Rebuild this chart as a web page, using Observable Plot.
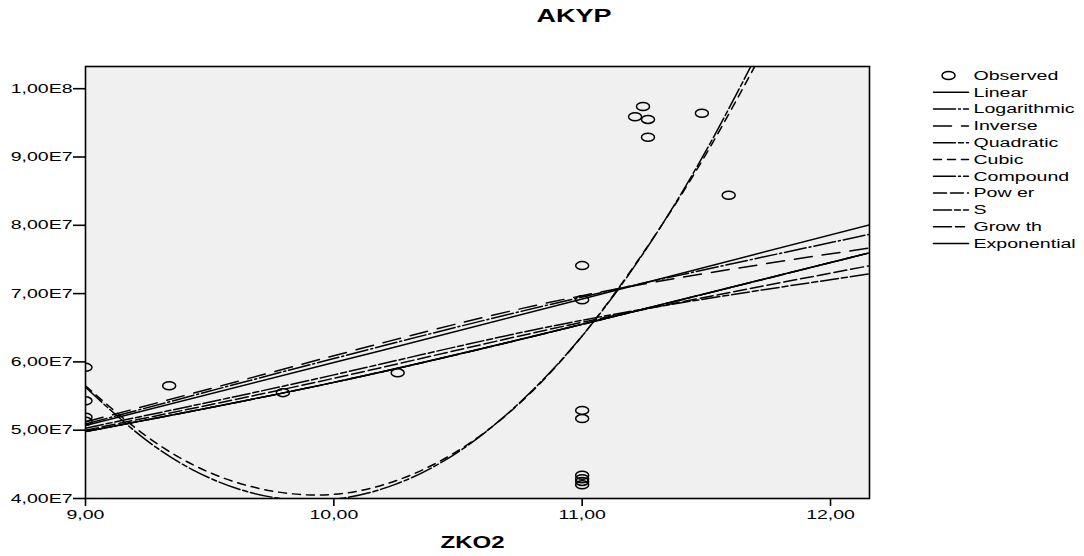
<!DOCTYPE html>
<html>
<head>
<meta charset="utf-8">
<script src="https://cdn.jsdelivr.net/npm/d3@7"></script>
<script src="https://cdn.jsdelivr.net/npm/@observablehq/plot@0.6"></script>
<style>
  body { margin: 0; background: #fff; font-family: "Liberation Sans", Arial, sans-serif; }
  #wrap { position: relative; width: 1084px; height: 556px; overflow: hidden; }
  #title { position: absolute; left: 474px; top: 7px; width: 200px; text-align: center;
           font-size: 18px; font-weight: bold; line-height: 18px; transform: scaleX(1.5); }
  #main { position: absolute; left: 0; top: 0; }
  #legend { position: absolute; left: 930px; top: 66px; }
</style>
</head>
<body>
<div id="wrap">
  <div id="title">AKYP</div>
  <div id="main"></div>
  <div id="legend"></div>
</div>
<script>
// ---------- data ----------
const titleText = "AKYP";
const xLabel = "ZKO2";

const xTicks = [9, 10, 11, 12];
const xTickLabels = ["9,00", "10,00", "11,00", "12,00"];
const yTicks = [4e7, 5e7, 6e7, 7e7, 8e7, 9e7, 1e8];
const yTickLabels = ["4,00E7", "5,00E7", "6,00E7", "7,00E7", "8,00E7", "9,00E7", "1,00E8"];

// observed points
const obsX = [9, 9, 9, 9, 9.337, 9.795, 10.257, 11, 11, 11, 11, 11, 11, 11, 11,
              11.213, 11.245, 11.265, 11.265, 11.482, 11.59];
const obsY = [5.92e7, 5.43e7, 5.19e7, 5.13e7, 5.65e7, 5.55e7, 5.84e7, 7.41e7, 6.91e7, 5.29e7, 5.17e7,
              4.34e7, 4.29e7, 4.25e7, 4.20e7, 9.59e7, 9.74e7, 9.55e7, 9.29e7, 9.64e7, 8.44e7];

// fitted curves (values read at these x positions)
const lineX = [9, 10, 11, 12.16];
const linearY      = [5.07e7, 5.99e7, 6.92e7, 8.01e7];
const logarithmicY = [5.09e7, 6.05e7, 6.95e7, 7.87e7];
const inverseY     = [5.12e7, 6.09e7, 6.97e7, 7.67e7];
const compoundY    = [4.98e7, 5.70e7, 6.55e7, 7.60e7];
const powerY       = [5.00e7, 5.76e7, 6.58e7, 7.41e7];
const sY           = [5.03e7, 5.81e7, 6.61e7, 7.29e7];
const growthY      = [4.98e7, 5.70e7, 6.55e7, 7.60e7];
const exponentialY = [4.98e7, 5.70e7, 6.55e7, 7.60e7];

const polyX = [9, 9.25, 9.5, 9.75, 10, 10.25, 10.5, 10.75, 11, 11.25, 11.5, 11.75];
const quadraticY = [5.63e7, 4.84e7, 4.30e7, 4.02e7, 3.99e7, 4.21e7, 4.68e7, 5.41e7, 6.38e7, 7.61e7, 9.10e7, 10.83e7];
const cubicY     = [5.65e7, 4.90e7, 4.38e7, 4.11e7, 4.06e7, 4.26e7, 4.70e7, 5.40e7, 6.38e7, 7.62e7, 9.05e7, 10.70e7];

const legendNames = ["Observed", "Linear", "Logarithmic", "Inverse", "Quadratic", "Cubic",
                     "Compound", "Pow er", "S", "Grow th", "Exponential"];

// ---------- styles ----------
const models = [
  {name: "Linear",      xs: lineX, ys: linearY,      dash: null},
  {name: "Logarithmic", xs: lineX, ys: logarithmicY, dash: "22,3,2,3"},
  {name: "Inverse",     xs: lineX, ys: inverseY,     dash: "18,10"},
  {name: "Quadratic",   xs: polyX, ys: quadraticY,   dash: "22,3,5,3"},
  {name: "Cubic",       xs: polyX, ys: cubicY,       dash: "8,6"},
  {name: "Compound",    xs: lineX, ys: compoundY,    dash: "22,3,2,3"},
  {name: "Pow er",      xs: lineX, ys: powerY,       dash: "13,4"},
  {name: "S",           xs: lineX, ys: sY,           dash: "18,3,6,3"},
  {name: "Grow th",     xs: lineX, ys: growthY,      dash: "18,4,9,4"},
  {name: "Exponential", xs: lineX, ys: exponentialY, dash: null}
];

const ellipse = {
  draw(ctx, size) {
    const rx = 6.5, ry = 4, k = 0.5523;
    ctx.moveTo(rx, 0);
    ctx.bezierCurveTo(rx, ry * k, rx * k, ry, 0, ry);
    ctx.bezierCurveTo(-rx * k, ry, -rx, ry * k, -rx, 0);
    ctx.bezierCurveTo(-rx, -ry * k, -rx * k, -ry, 0, -ry);
    ctx.bezierCurveTo(rx * k, -ry, rx, -ry * k, rx, 0);
    ctx.closePath();
  }
};

const xFmt = new Map(xTicks.map((t, i) => [t, xTickLabels[i]]));
const yFmt = new Map(yTicks.map((t, i) => [t, yTickLabels[i]]));
const observed = obsX.map((x, i) => ({x, y: obsY[i]}));

const curveMarks = models.map(m => Plot.line(m.xs.map((x, i) => ({x, y: m.ys[i]})), {
  x: "x", y: "y", curve: "natural", stroke: "black", strokeWidth: 1.5,
  strokeDasharray: m.dash, clip: true
}));

const main = Plot.plot({
  width: 1084, height: 556,
  marginLeft: 85, marginRight: 215, marginTop: 66, marginBottom: 58,
  style: {fontFamily: "'Liberation Sans', Arial, sans-serif", fontSize: "13px", color: "black", background: "transparent"},
  x: {domain: [9, 12.157]},
  y: {domain: [4e7, 1.0325e8]},
  marks: [
    Plot.frame({fill: "#f0f0f0"}),
    ...curveMarks,
    Plot.dot(observed, {x: "x", y: "y", symbol: ellipse, stroke: "black", strokeWidth: 1.5, fill: "none", clip: true}),
    Plot.frame({stroke: "black", strokeWidth: 1.6}),
    Plot.axisX({ticks: xTicks, tickFormat: d => xFmt.get(d), tickSize: 8, tickPadding: 3, strokeWidth: 1.6, label: null}),
    Plot.axisY({ticks: yTicks, tickFormat: d => yFmt.get(d), tickSize: 12, tickPadding: 1, strokeWidth: 1.6, label: null}),
    Plot.text([xLabel], {frameAnchor: "bottom", dy: 49, dx: -5, fontWeight: "bold", fontSize: 16, fill: "black"})
  ]
});

const rowIndex = name => legendNames.indexOf(name);
const legend = Plot.plot({
  width: 154, height: 190, margin: 0,
  style: {fontFamily: "'Liberation Sans', Arial, sans-serif", fontSize: "13.5px", color: "black", background: "transparent"},
  x: {domain: [0, 1], range: [3, 38], axis: null},
  y: {domain: [0, legendNames.length - 1], range: [9, 177], axis: null},
  marks: [
    Plot.dot(["Observed"], {x: () => 0.43, y: d => rowIndex(d), symbol: ellipse, stroke: "black", strokeWidth: 1.5, fill: "none"}),
    ...models.map(m => Plot.line([0, 1], {x: d => d, y: () => rowIndex(m.name), stroke: "black", strokeWidth: 1.5, strokeDasharray: m.dash})),
    Plot.text(legendNames, {x: () => 1, y: d => rowIndex(d), text: d => d, dx: 5, textAnchor: "start", fill: "black"})
  ]
});

function stretchText(svg, k) {
  svg.querySelectorAll("text").forEach(t => {
    const tr = t.getAttribute("transform");
    if (tr) t.setAttribute("transform", tr + ` scale(${k},1)`);
    else {
      const x = +(t.getAttribute("x") || 0);
      t.setAttribute("transform", `translate(${x},0) scale(${k},1) translate(${-x},0)`);
    }
  });
}
stretchText(main, 1.5);
stretchText(legend, 1.45);

document.getElementById("main").appendChild(main);
document.getElementById("legend").appendChild(legend);
</script>
</body>
</html>
